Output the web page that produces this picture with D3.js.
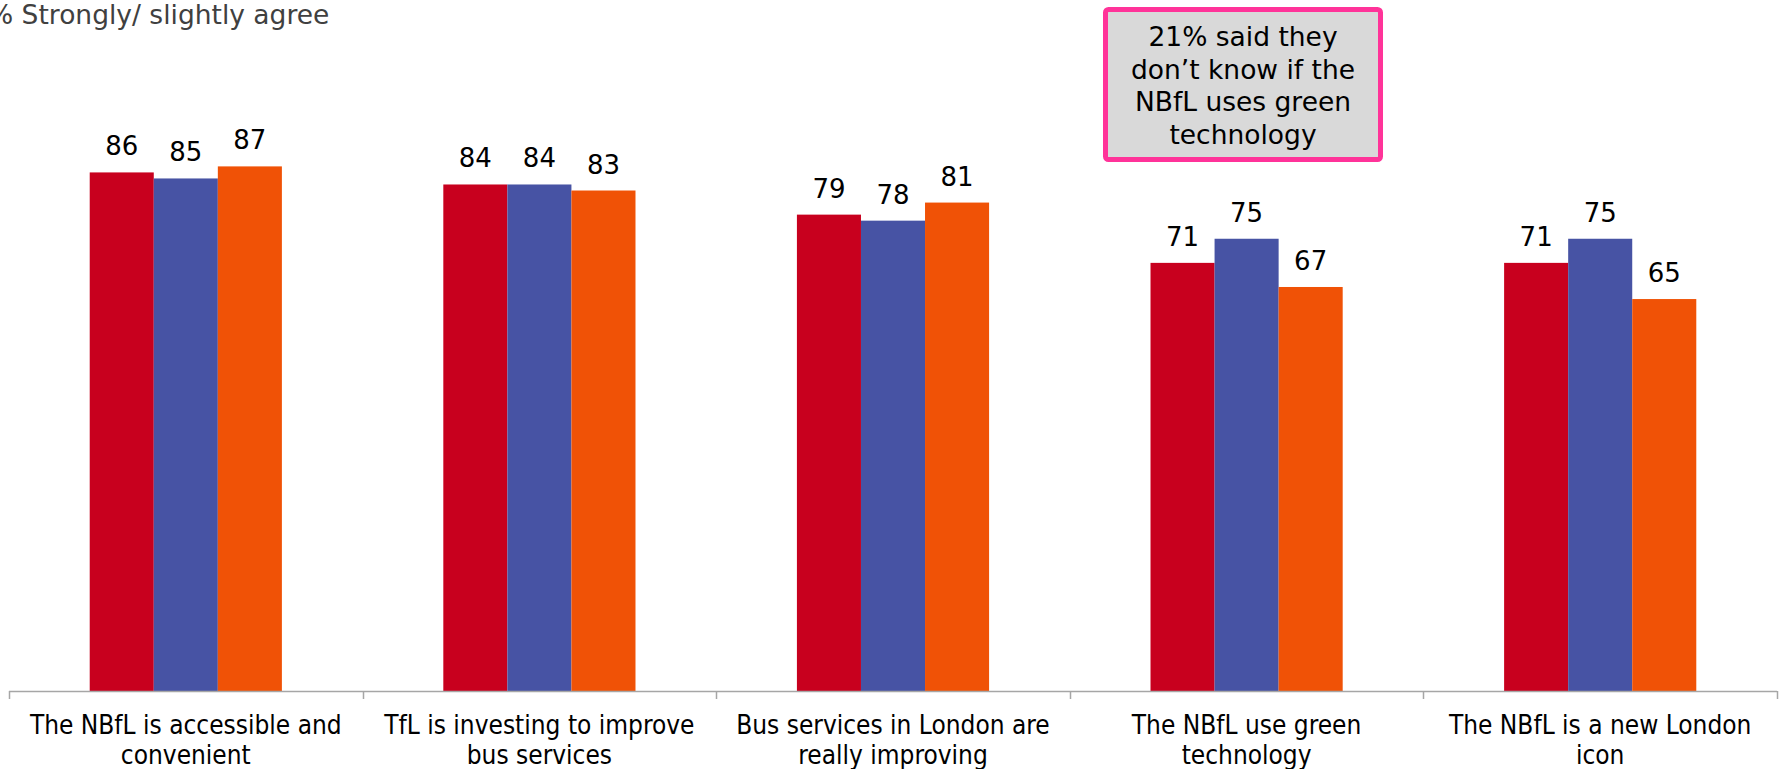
<!DOCTYPE html>
<html>
<head>
<meta charset="utf-8">
<script src="https://cdn.jsdelivr.net/npm/d3@7"></script>
<style>
	body { margin: 0; background: #fff; }
	svg { display: block; }
</style>
</head>
<body>
<div id="chart"></div>
<script>
// chart data
var categories = [
	["The NBfL is accessible and", "convenient"],
	["TfL is investing to improve", "bus services"],
	["Bus services in London are", "really improving"],
	["The NBfL use green", "technology"],
	["The NBfL is a new London", "icon"]
]
var seriesNames = ["Series 1", "Series 2", "Series 3"]
var series1 = [86, 84, 79, 71, 71]
var series2 = [85, 84, 78, 75, 75]
var series3 = [87, 83, 81, 67, 65]
var yTitle = "% Strongly/ slightly agree"
var noteLines = ["21% said they", "don\u2019t know if the", "NBfL uses green", "technology"]

run()

function run() {
	var w = 1783
	var h = 769
	var bounds = { left: 9, right: 1777, top: 88, bottom: 691 }
	var colors = ["#c8001e", "#4753a4", "#f05206"]
	var allSeries = [series1, series2, series3]

	var svg = d3.select("#chart")
		.append("svg")
		.attr("width", w)
		.attr("height", h)

	var x = d3.scaleBand()
		.domain(d3.range(categories.length))
		.range([bounds.left, bounds.right])
		.paddingInner(0)

	var x1 = d3.scaleBand()
		.domain(seriesNames)
		.range([0, x.bandwidth()])
		.paddingInner(0)
		.paddingOuter(1.26)

	var y = d3.scaleLinear()
		.domain([0, 100])
		.range([bounds.bottom, bounds.top])

	// y axis title (runs off the left edge, like the original)
	svg.append("text")
		.attr("x", -12)
		.attr("y", 24)
		.style("font-family", "DejaVu Sans")
		.style("font-size", "26.5px")
		.style("fill", "#404040")
		.text(yTitle)

	// bars
	var groups = svg.selectAll("g.cat")
		.data(categories)
		.enter()
		.append("g")
		.attr("class", "cat")
		.attr("transform", (d, i) => "translate(" + x(i) + ",0)")

	var rows = (d, i) => seriesNames.map((s, j) => ({ name: s, value: allSeries[j][i], idx: j }))

	groups.selectAll("rect")
		.data(rows)
		.enter()
		.append("rect")
		.attr("x", d => x1(d.name))
		.attr("y", d => y(d.value))
		.attr("width", x1.bandwidth())
		.attr("height", d => bounds.bottom - y(d.value))
		.attr("fill", d => colors[d.idx])

	groups.selectAll("text.val")
		.data(rows)
		.enter()
		.append("text")
		.attr("class", "val")
		.attr("x", d => x1(d.name) + x1.bandwidth() / 2)
		.attr("y", d => y(d.value) - 17)
		.attr("text-anchor", "middle")
		.style("font-family", "DejaVu Sans")
		.style("font-size", "26px")
		.style("fill", "#000")
		.text(d => d.value)

	// x axis line with ticks at category boundaries
	svg.append("line")
		.attr("x1", bounds.left)
		.attr("x2", bounds.right)
		.attr("y1", bounds.bottom + 0.5)
		.attr("y2", bounds.bottom + 0.5)
		.style("stroke", "#a6a6a6")
		.style("stroke-width", 1.5)

	var edges = d3.range(categories.length + 1).map(i => i < categories.length ? x(i) : x(i - 1) + x.bandwidth())
	svg.selectAll("line.tick")
		.data(edges)
		.enter()
		.append("line")
		.attr("class", "tick")
		.attr("x1", d => Math.round(d) + 0.5)
		.attr("x2", d => Math.round(d) + 0.5)
		.attr("y1", bounds.bottom)
		.attr("y2", bounds.bottom + 8)
		.style("stroke", "#a6a6a6")
		.style("stroke-width", 1.5)

	// category labels
	var labels = svg.selectAll("text.cat")
		.data(categories)
		.enter()
		.append("text")
		.attr("class", "cat")
		.attr("text-anchor", "middle")
		.style("font-family", "DejaVu Sans Condensed")
		.style("font-size", "26px")
		.style("fill", "#000")

	labels.selectAll("tspan")
		.data((d, i) => d.map(t => ({ t: t, i: i })))
		.enter()
		.append("tspan")
		.attr("x", d => x(d.i) + x.bandwidth() / 2)
		.attr("y", (d, k) => 734 + k * 30)
		.text(d => d.t)

	// annotation box
	var note = svg.append("g")
	note.append("rect")
		.attr("x", 1105.5)
		.attr("y", 9.5)
		.attr("width", 275)
		.attr("height", 150)
		.attr("rx", 3)
		.style("fill", "#d9d9d9")
		.style("stroke", "#ff3399")
		.style("stroke-width", 5)

	note.append("text")
		.attr("text-anchor", "middle")
		.style("font-family", "DejaVu Sans")
		.style("font-size", "26.5px")
		.style("fill", "#000")
		.selectAll("tspan")
		.data(noteLines)
		.enter()
		.append("tspan")
		.attr("x", 1243)
		.attr("y", (d, i) => 46 + i * 32.5)
		.text(d => d)
}
</script>
</body>
</html>
